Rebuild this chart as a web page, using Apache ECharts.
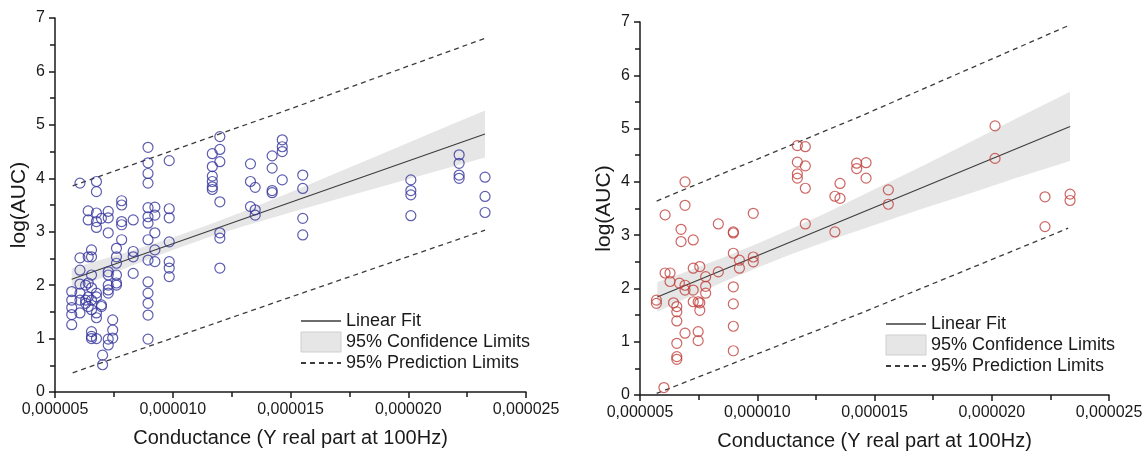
<!DOCTYPE html>
<html>
<head>
<meta charset="utf-8">
<script src="https://cdn.jsdelivr.net/npm/echarts@6/dist/echarts.min.js"></script>
<style>
html,body{margin:0;padding:0;background:#fff;}
#chart{width:1146px;height:457px;}
</style>
</head>
<body>
<div id="chart"></div>
<script>
// Conductance in units of 1e-6 S (axis labels show the real value)
const xTicks = [5, 10, 15, 20, 25];
const yTicks = [0, 1, 2, 3, 4, 5, 6, 7];

// Left panel: scatter columns (x) and their log(AUC) values
const leftCols = [5.71, 6.06, 6.30, 6.41, 6.55, 6.76, 6.97, 7.02, 7.26, 7.45, 7.61, 7.83, 8.32, 8.95, 9.24, 9.85, 11.68, 12.0, 13.3, 13.5, 14.22, 14.65, 15.52, 20.11, 22.16, 23.26];
const leftVals = [
  [1.88, 1.72, 1.58, 1.45, 1.26],
  [3.91, 2.51, 2.28, 2.02, 1.85, 1.72, 1.48],
  [2.00, 1.72, 1.66],
  [3.39, 3.22, 2.53, 2.04, 1.78, 1.60],
  [2.66, 2.53, 2.19, 1.95, 1.72, 1.54, 1.13, 1.04, 1.00],
  [3.94, 3.75, 3.35, 3.19, 3.08, 1.85, 1.78, 1.48, 1.39, 1.00],
  [3.25, 1.63, 1.60],
  [0.69, 0.51],
  [3.38, 3.26, 2.98, 2.25, 2.19, 2.00, 1.91, 1.85, 0.99, 0.88],
  [1.35, 1.16, 1.01],
  [2.69, 2.53, 2.41, 2.19, 2.04, 2.00],
  [3.58, 3.50, 3.19, 3.13, 2.85],
  [3.22, 2.63, 2.53, 2.22],
  [4.58, 4.29, 4.09, 3.91, 3.45, 3.28, 3.16, 2.85, 2.47, 2.06, 1.85, 1.66, 1.44, 0.99],
  [3.46, 3.31, 2.98, 2.66, 2.44],
  [4.33, 3.43, 3.26, 2.81, 2.44, 2.32, 2.16],
  [4.46, 4.22, 4.04, 3.94, 3.84, 3.79],
  [4.78, 4.54, 4.31, 3.56, 2.98, 2.88, 2.32],
  [4.27, 3.94, 3.47],
  [3.83, 3.41, 3.31],
  [4.42, 4.19, 3.77, 3.73],
  [4.72, 4.59, 4.50, 3.97],
  [4.06, 3.81, 3.25, 2.94],
  [3.97, 3.77, 3.69, 3.30],
  [4.44, 4.28, 4.06, 4.00],
  [4.02, 3.66, 3.36]
];

// Right panel
const rightCols = [5.70, 6.02, 6.07, 6.28, 6.43, 6.57, 6.68, 6.75, 6.92, 7.27, 7.48, 7.55, 7.80, 8.34, 8.98, 9.24, 9.83, 11.71, 12.05, 13.31, 13.53, 14.24, 14.64, 15.59, 20.14, 22.27, 23.34];
const rightVals = [
  [1.78, 1.72],
  [0.14],
  [3.38, 2.29],
  [2.29, 2.13],
  [1.73],
  [1.66, 1.56, 1.39, 0.97, 0.72, 0.67],
  [2.10],
  [3.11, 2.88],
  [4.00, 3.56, 2.06, 1.97, 1.16],
  [2.91, 2.38, 1.97, 1.75],
  [1.75, 1.19, 1.02],
  [2.41, 1.73, 1.59],
  [2.22, 2.04, 1.91],
  [3.21, 2.31],
  [3.06, 3.04, 2.66, 2.03, 1.71, 1.29, 0.83],
  [2.53, 2.38],
  [3.41, 2.59, 2.50],
  [4.68, 4.37, 4.15, 4.07],
  [4.66, 4.30, 3.88, 3.21],
  [3.73, 3.06],
  [3.97, 3.69],
  [4.35, 4.25],
  [4.36, 4.07],
  [3.85, 3.58],
  [5.05, 4.44],
  [3.72, 3.16],
  [3.77, 3.65]
];

// Fit lines (read at the ends)
const leftFitX = [5.71, 23.26];
const leftFitY = [2.11, 4.83];
const rightFitX = [5.74, 23.34];
const rightFitY = [1.84, 5.04];

// Confidence bands
const leftBandX = [5.71, 7, 8.5, 10, 11.5, 13, 15, 17, 19, 21, 23.26];
const leftBandUp = [2.31, 2.48, 2.675, 2.89, 3.125, 3.38, 3.74, 4.11, 4.48, 4.85, 5.27];
const leftBandLo = [1.91, 2.14, 2.405, 2.66, 2.89, 3.10, 3.36, 3.61, 3.86, 4.11, 4.39];
const rightBandX = [5.74, 7, 8.5, 10, 11.5, 13, 15, 17, 19, 21, 23.34];
const rightBandUp = [2.12, 2.32, 2.57, 2.84, 3.13, 3.43, 3.86, 4.29, 4.73, 5.18, 5.69];
const rightBandLo = [1.56, 1.82, 2.11, 2.39, 2.65, 2.89, 3.19, 3.49, 3.77, 4.07, 4.39];

// Prediction limits
const leftPredX = [5.75, 14.5, 23.26];
const leftPredUp = [3.86, 5.22, 6.62];
const leftPredLo = [0.36, 1.70, 3.03];
const rightPredX = [5.71, 14.5, 23.26];
const rightPredUp = [3.64, 5.25, 6.93];
const rightPredLo = [0.03, 1.55, 3.13];

const FONT = '"Liberation Sans", Arial, sans-serif';
const INK = '#1a1a1a';

function pairs(xs, ys) { return xs.map((x, i) => [x, ys[i]]); }
function flatten(cols, vals) {
  const out = [];
  cols.forEach((x, i) => vals[i].forEach(v => out.push([x, v])));
  return out;
}

function makeX(gi) {
  return {
    type: 'value', gridIndex: gi, min: xTicks[0], max: xTicks[xTicks.length - 1], interval: 5,
    name: 'Conductance (Y real part at 100Hz)', nameLocation: 'middle', nameGap: 36,
    nameTextStyle: {fontSize: 20, color: INK, fontFamily: FONT},
    axisLine: {onZero: false, lineStyle: {color: INK, width: 1.5}},
    axisTick: {length: 6, lineStyle: {color: INK, width: 1.5}},
    minorTick: {show: true, splitNumber: 2, length: 5, lineStyle: {color: INK, width: 1.5}},
    axisLabel: {fontSize: 16, color: INK, fontFamily: FONT, margin: 10,
      formatter: v => (v / 1e6).toFixed(6).replace('.', ',')},
    splitLine: {show: false}
  };
}
function makeY(gi) {
  return {
    type: 'value', gridIndex: gi, min: yTicks[0], max: yTicks[yTicks.length - 1], interval: 1,
    name: 'log(AUC)', nameLocation: 'middle', nameGap: 25,
    nameTextStyle: {fontSize: 21, color: INK, fontFamily: FONT},
    axisLine: {onZero: false, lineStyle: {color: INK, width: 1.5}},
    axisTick: {length: 6, lineStyle: {color: INK, width: 1.5}},
    minorTick: {show: true, splitNumber: 2, length: 5, lineStyle: {color: INK, width: 1.5}},
    axisLabel: {fontSize: 16, color: INK, fontFamily: FONT, margin: 10},
    splitLine: {show: false}
  };
}

function bandSeries(gi, xs, up, lo) {
  const pts = xs.map((x, i) => [x, up[i], lo[i]]);
  return {
    type: 'custom', name: '95% Confidence Limits', xAxisIndex: gi, yAxisIndex: gi, z: 1, silent: true,
    data: pts, encode: {x: 0, y: [1, 2]},
    renderItem: function (params, api) {
      if (params.dataIndex !== 0) return null;
      const top = pts.map(p => api.coord([p[0], p[1]]));
      const bot = pts.map(p => api.coord([p[0], p[2]])).reverse();
      return {type: 'polygon', shape: {points: top.concat(bot)}, style: {fill: '#e6e6e6'}};
    }
  };
}
function lineSeries(gi, name, data, dashed) {
  return {
    type: 'line', name: name, xAxisIndex: gi, yAxisIndex: gi, data: data,
    symbol: 'none', showSymbol: false, silent: true, z: 3,
    itemStyle: {color: '#3c3c3c'},
    lineStyle: {color: '#3c3c3c', width: dashed ? 1.3 : 1.1, type: dashed ? [5, 4] : 'solid'}
  };
}
function scatterSeries(gi, data, color) {
  return {
    type: 'scatter', name: 'data' + gi, xAxisIndex: gi, yAxisIndex: gi, data: data,
    symbol: 'circle', symbolSize: 10, z: 4, silent: true,
    itemStyle: {color: 'rgba(0,0,0,0)', borderColor: color, borderWidth: 1.2}
  };
}
function legendFor(left, top) {
  return {
    left: left, top: top, orient: 'vertical', itemWidth: 40, itemHeight: 20, itemGap: 1.5,
    padding: 0, selectedMode: false,
    textStyle: {fontSize: 18, color: INK, fontFamily: FONT},
    data: [
      {name: 'Linear Fit', itemStyle: {opacity: 0}, lineStyle: {width: 1.3}},
      {name: '95% Confidence Limits', icon: 'rect', itemStyle: {color: '#e6e6e6', borderColor: '#cfcfcf', borderWidth: 1}},
      {name: '95% Prediction Limits', itemStyle: {opacity: 0}}
    ]
  };
}

const chart = echarts.init(document.getElementById('chart'), null, {renderer: 'canvas'});
chart.setOption({
  animation: false,
  backgroundColor: '#fff',
  grid: [
    {left: 55, top: 18, width: 471, height: 374},
    {left: 640, top: 22, width: 469, height: 373}
  ],
  xAxis: [makeX(0), makeX(1)],
  yAxis: [makeY(0), makeY(1)],
  legend: [legendFor(300, 312), legendFor(885, 315)],
  series: [
    bandSeries(0, leftBandX, leftBandUp, leftBandLo),
    lineSeries(0, 'Linear Fit', pairs(leftFitX, leftFitY), false),
    lineSeries(0, '95% Prediction Limits', pairs(leftPredX, leftPredUp), true),
    lineSeries(0, '95% Prediction Limits', pairs(leftPredX, leftPredLo), true),
    scatterSeries(0, flatten(leftCols, leftVals), '#34349c'),
    bandSeries(1, rightBandX, rightBandUp, rightBandLo),
    lineSeries(1, 'Linear Fit', pairs(rightFitX, rightFitY), false),
    lineSeries(1, '95% Prediction Limits', pairs(rightPredX, rightPredUp), true),
    lineSeries(1, '95% Prediction Limits', pairs(rightPredX, rightPredLo), true),
    scatterSeries(1, flatten(rightCols, rightVals), '#c0403c')
  ]
});
</script>
</body>
</html>
